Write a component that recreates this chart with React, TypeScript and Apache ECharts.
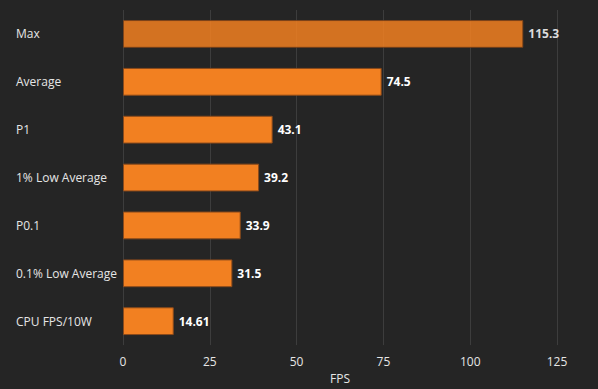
import React, { useEffect, useRef } from "react";
import * as echarts from "echarts";

const categories = ["Max", "Average", "P1", "1% Low Average", "P0.1", "0.1% Low Average", "CPU FPS/10W"];
const values = [115.3, 74.5, 43.1, 39.2, 33.9, 31.5, 14.61];
const valueLabels = ["115.3", "74.5", "43.1", "39.2", "33.9", "31.5", "14.61"];
const xTicks = [0, 25, 50, 75, 100, 125];

export default function App() {
  const ref = useRef<HTMLDivElement>(null);
  useEffect(() => {
    const chart = echarts.init(ref.current!, null, { renderer: "svg" });
    const font = "'Open Sans', 'Noto Sans', sans-serif";
    chart.setOption({
      animation: false,
      backgroundColor: "#252525",
      grid: { left: 123, right: 41, top: 10, bottom: 43, containLabel: false },
      xAxis: {
        type: "value",
        min: xTicks[0],
        max: xTicks[xTicks.length - 1],
        interval: 25,
        name: "FPS",
        nameLocation: "middle",
        nameGap: 23,
        nameTextStyle: { color: "#e6e6e6", fontSize: 12, fontFamily: font },
        axisLine: { show: false },
        axisTick: { show: false },
        axisLabel: {
          color: "#e6e6e6",
          fontSize: 12,
          fontFamily: font,
          margin: 10,
        },
        splitLine: { show: true, lineStyle: { color: "#3d3d3d", width: 1 } },
      },
      yAxis: {
        type: "category",
        inverse: true,
        data: categories,
        axisLine: { show: false },
        axisTick: { show: false },
        axisLabel: {
          color: "#e6e6e6",
          fontSize: 12,
          fontFamily: font,
          align: "left",
          margin: 107,
        },
        splitLine: { show: false },
      },
      series: [
        {
          type: "bar",
          barWidth: "58%",
          data: values.map((v, i) => ({
            value: v,
            itemStyle:
              i === 0
                ? { color: "#f28021", opacity: 0.85, borderColor: "#7a4118" }
                : undefined,
          })),
          itemStyle: { color: "#f28021", borderColor: "#8b4a1b", borderWidth: 1 },
          label: {
            show: true,
            position: "right",
            distance: 5,
            color: "#ffffff",
            fontSize: 12,
            fontWeight: "bold",
            fontFamily: font,
            formatter: (p: any) => valueLabels[p.dataIndex],
          },
        },
      ],
    });
    return () => chart.dispose();
  }, []);
  return <div ref={ref} style={{ width: 598, height: 389, position: "absolute", left: 0, top: 0 }} />;
}
